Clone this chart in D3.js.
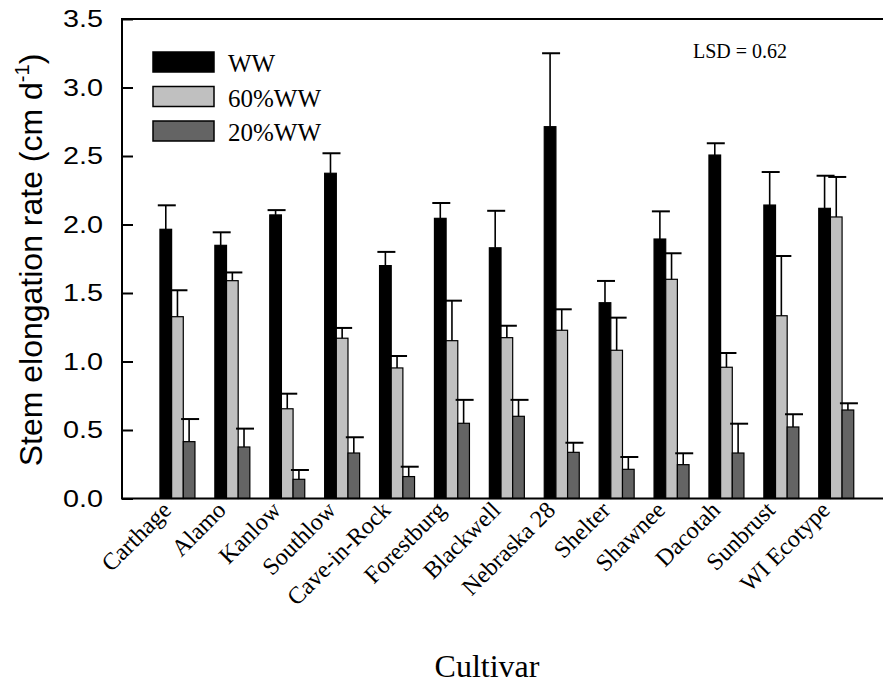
<!DOCTYPE html>
<html>
<head>
<meta charset="utf-8">
<script src="https://d3js.org/d3.v7.min.js"></script>
<style>
  body { margin: 0; background: #fff; }
  svg { display: block; }
  .tick-label { font-family: "Liberation Sans", Arial, sans-serif; }
  .serif { font-family: "Liberation Serif", "Times New Roman", serif; }
</style>
</head>
<body>
<svg width="883" height="696"></svg>
<script>
const svg = d3.select('svg');
const width = +svg.attr('width');
const height = +svg.attr('height');

// data
const cultivars = ['Carthage', 'Alamo', 'Kanlow', 'Southlow', 'Cave-in-Rock', 'Forestburg',
  'Blackwell', 'Nebraska 28', 'Shelter', 'Shawnee', 'Dacotah', 'Sunbrust', 'WI Ecotype'];
const treatments = ['WW', '60%WW', '20%WW'];
const wwMean = [1.965, 1.848, 2.07, 2.374, 1.70, 2.045, 1.83, 2.714, 1.429, 1.894, 2.507, 2.142, 2.118];
const wwSE = [0.175, 0.095, 0.035, 0.146, 0.10, 0.112, 0.27, 0.536, 0.159, 0.202, 0.086, 0.241, 0.238];
const ww60Mean = [1.327, 1.59, 0.655, 1.17, 0.953, 1.152, 1.174, 1.228, 1.082, 1.60, 0.958, 1.334, 2.055];
const ww60SE = [0.193, 0.06, 0.11, 0.075, 0.087, 0.292, 0.087, 0.153, 0.238, 0.19, 0.104, 0.436, 0.292];
const ww20Mean = [0.415, 0.376, 0.14, 0.332, 0.16, 0.549, 0.60, 0.337, 0.213, 0.247, 0.332, 0.522, 0.646];
const ww20SE = [0.165, 0.134, 0.068, 0.115, 0.072, 0.171, 0.12, 0.07, 0.09, 0.083, 0.214, 0.093, 0.049];
const yTicks = [0, 0.5, 1.0, 1.5, 2.0, 2.5, 3.0, 3.5];
const lsdText = 'LSD = 0.62';

const means = [wwMean, ww60Mean, ww20Mean];
const ses = [wwSE, ww60SE, ww20SE];
const fills = ['#000000', '#c0c0c0', '#646464'];

const plotLeft = 122, plotRight = 883, plotTop = 19, plotBottom = 498.5;

const x = d3.scaleBand()
  .domain(cultivars)
  .range([150, 150 + 13 * 54.9])
  .padding(0);
const xSub = d3.scaleBand()
  .domain(treatments)
  .range([-17.5, 17.5]);
const y = d3.scaleLinear()
  .domain([0, 3.5])
  .range([plotBottom, plotTop]);

const rows = [];
cultivars.forEach((c, i) => {
  treatments.forEach((t, k) => {
    rows.push({ cultivar: c, treatment: t, k: k, mean: means[k][i], se: ses[k][i] });
  });
});

const g = svg.append('g');

// bars
g.selectAll('rect.bar').data(rows)
  .enter().append('rect')
    .attr('class', 'bar')
    .attr('x', d => x(d.cultivar) + x.bandwidth() / 2 + xSub(d.treatment))
    .attr('y', d => y(d.mean))
    .attr('width', xSub.bandwidth())
    .attr('height', d => y(0) - y(d.mean))
    .attr('fill', d => fills[d.k])
    .attr('stroke', '#000')
    .attr('stroke-width', 1.2);

// error bars (upper only)
const cx = d => x(d.cultivar) + x.bandwidth() / 2 + xSub(d.treatment) + xSub.bandwidth() / 2;
g.selectAll('line.err').data(rows)
  .enter().append('line')
    .attr('x1', cx).attr('x2', cx)
    .attr('y1', d => y(d.mean))
    .attr('y2', d => y(d.mean + d.se))
    .attr('stroke', '#000')
    .attr('stroke-width', 1.6);
g.selectAll('line.cap').data(rows)
  .enter().append('line')
    .attr('x1', d => cx(d) - 8)
    .attr('x2', d => cx(d) + 10)
    .attr('y1', d => y(d.mean + d.se))
    .attr('y2', d => y(d.mean + d.se))
    .attr('stroke', '#000')
    .attr('stroke-width', 2);

// frame: left, top, bottom
svg.append('path')
  .attr('d', `M${plotRight},${plotTop}H${plotLeft}V${plotBottom}H${plotRight}`)
  .attr('fill', 'none')
  .attr('stroke', '#000')
  .attr('stroke-width', 2);

// y axis, ticks inward
const yAxis = d3.axisLeft(y)
  .tickValues(yTicks)
  .tickSizeInner(-11)
  .tickSizeOuter(0)
  .tickPadding(19)
  .tickFormat(d3.format('.1f'));
const yAxisG = svg.append('g')
  .attr('transform', `translate(${plotLeft},0)`)
  .call(yAxis);
yAxisG.select('.domain').remove();
yAxisG.selectAll('line').attr('stroke-width', 2);
// labels in the figure are a bit wider than plain Arial
yAxisG.selectAll('text')
  .attr('class', 'tick-label')
  .attr('font-size', 24)
  .attr('fill', '#000')
  .attr('x', -19 / 1.2)
  .attr('transform', 'scale(1.2,1)');

// x labels, rotated
svg.append('g').selectAll('text').data(cultivars)
  .enter().append('text')
    .attr('class', 'serif')
    .attr('font-size', 24)
    .attr('text-anchor', 'end')
    .attr('transform', d => `translate(${x(d) + x.bandwidth() / 2 - 5},${plotBottom + 13}) rotate(-45)`)
    .text(d => d);

// axis titles
svg.append('text')
  .attr('class', 'serif')
  .attr('font-size', 32)
  .attr('text-anchor', 'middle')
  .attr('x', 487)
  .attr('y', 677)
  .text('Cultivar');

const yTitle = svg.append('text')
  .attr('class', 'tick-label')
  .attr('font-size', 32)
  .attr('text-anchor', 'middle')
  .attr('transform', 'translate(42,260) rotate(-90)');
yTitle.append('tspan').text('Stem elongation rate (cm d');
yTitle.append('tspan').attr('font-size', 20).attr('dy', -13).text('-1');
yTitle.append('tspan').attr('dy', 13).text(')');

// legend
const legend = svg.append('g').attr('transform', 'translate(153,52)');
treatments.forEach((t, k) => {
  legend.append('rect')
    .attr('x', 0)
    .attr('y', k * 34.5)
    .attr('width', 61)
    .attr('height', 20)
    .attr('fill', fills[k])
    .attr('stroke', '#000')
    .attr('stroke-width', 1.5);
  legend.append('text')
    .attr('class', 'serif')
    .attr('font-size', 25)
    .attr('x', 75)
    .attr('y', k * 34.5 + 20)
    .text(t);
});

svg.append('text')
  .attr('class', 'serif')
  .attr('font-size', 20)
  .attr('x', 693)
  .attr('y', 57.5)
  .text(lsdText);
</script>
</body>
</html>
